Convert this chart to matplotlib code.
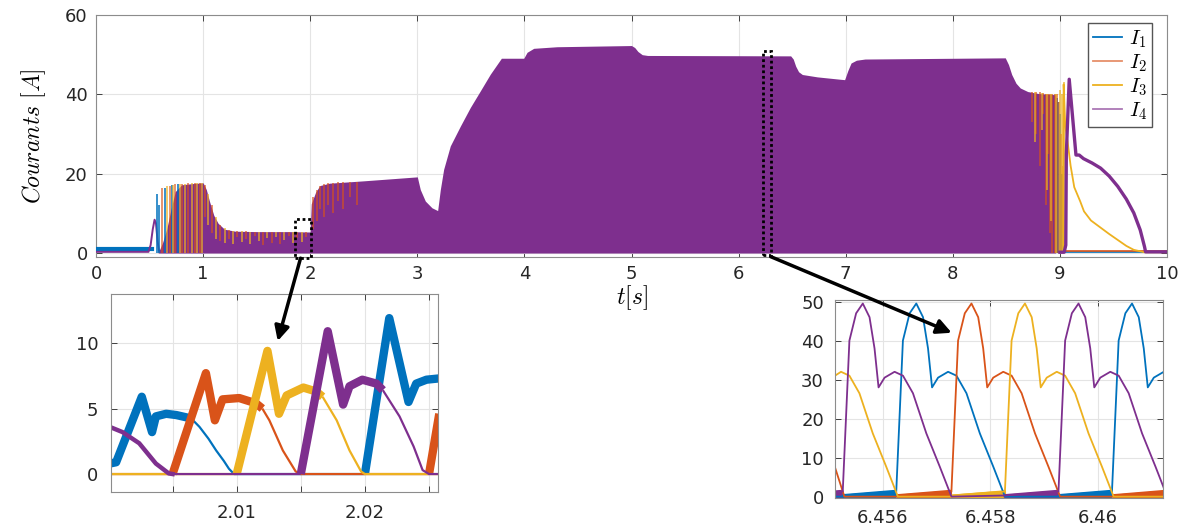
import matplotlib.pyplot as plt
from matplotlib.lines import Line2D
from matplotlib.patches import Rectangle, ConnectionPatch

plt.rcParams['font.family'] = ['DejaVu Sans']
plt.rcParams['mathtext.fontset'] = 'cm'

C1, C2, C3, C4 = '#0072BD', '#D95319', '#EDB120', '#7E2F8E'
nan = float('nan')

# ---------------- main view, 0..10 s ----------------
# upper envelope of the dense switching (drawn as purple block)
env_t = [0.58, 0.62, 0.66, 0.70, 0.74, 0.80, 0.90, 1.00, 1.03, 1.06, 1.10, 1.14,
         1.20, 1.30, 1.50, 1.80, 2.00, 2.005, 2.01, 2.05, 2.09, 2.18, 2.50, 3.00,
         3.028, 3.075, 3.137, 3.19, 3.215, 3.246, 3.308, 3.402, 3.495, 3.589, 3.682,
         3.785, 3.994, 4.025, 4.087, 4.305, 5.00, 5.03, 5.06, 5.10, 5.15,
         6.486, 6.51, 6.533, 6.56, 6.595, 6.735, 6.95, 6.99, 7.02, 7.05, 7.10, 7.18,
         8.49, 8.52, 8.55, 8.59, 8.63, 8.70, 8.80, 8.96]
env_v = [0.0, 2.5, 6.0, 11.0, 15.5, 17.2, 17.5, 17.7, 16.0, 13.0, 9.5, 7.5,
         6.0, 5.5, 5.4, 5.4, 5.3, 9.0, 12.4, 15.3, 17.0, 17.6, 18.2, 19.2,
         16.0, 13.1, 11.4, 10.7, 16.0, 21.1, 27.0, 32.0, 36.7, 40.9, 45.1,
         49.1, 49.1, 50.6, 51.6, 52.0, 52.3, 51.8, 50.8, 50.0, 49.8,
         49.7, 48.9, 47.1, 45.7, 45.0, 44.4, 43.8, 43.7, 46.0, 47.9, 48.6, 48.9,
         49.2, 47.5, 45.0, 42.8, 41.6, 40.7, 40.2, 39.9]

# start-up (before the switching block)
i1_start_t = [0.0, 0.52]
i1_start_v = [1.1, 1.1]
i4_start_t = [0.0, 0.49, 0.51, 0.53, 0.547, 0.56, 0.575, 0.59]
i4_start_v = [0.3, 0.3, 2.0, 6.0, 8.4, 7.5, 3.0, 0.3]

# individual commutation spikes visible on top of the block
sp1_t = [0.567, 0.585, 0.645, 0.707, 0.770, 8.97, 8.985, 9.005, 9.02]
sp1_lo = [0, 0, 0, 0, 0, 0, 0, 0, 0]
sp1_hi = [15.0, 12.0, 16.5, 17.2, 17.4, 39.0, 38.0, 35.0, 20.0]

sp2_t = [0.614, 0.692, 0.738, 0.800, 0.860, 0.920, 0.975,
         1.02, 1.08, 1.16, 1.24, 1.32, 1.40, 1.48, 1.56, 1.64, 1.72, 1.80, 1.88, 1.96,
         2.03, 2.06, 2.09, 2.13, 2.17, 2.21, 2.26, 2.31, 2.37, 2.44,
         8.74, 8.78, 8.81, 8.84, 8.87, 8.89, 8.91, 8.93, 8.95, 8.97, 8.99, 9.01, 9.03]
sp2_lo = [0, 0, 0, 0, 0, 0, 0,
          9.0, 5.0, 3.0, 3.5, 4.0, 3.6, 4.2, 2.1, 2.6, 2.2, 4.4, 3.7, 4.1,
          6.0, 8.0, 11.0, 9.0, 12.0, 10.0, 13.0, 11.0, 14.0, 12.0,
          33, 30, 22, 35, 12, 25, 5, 0, 0, 0, 0, 0, 5]
sp2_hi = [16.3, 17.0, 17.3, 17.5, 17.6, 17.6, 17.7,
          17.2, 12.0, 7.0, 5.8, 5.5, 5.5, 5.4, 5.4, 5.4, 5.4, 5.4, 5.4, 5.3,
          14.0, 15.8, 17.0, 17.4, 17.6, 17.7, 17.8, 17.9, 18.0, 18.0,
          40.5, 40.5, 40.5, 40.3, 40.2, 40.2, 40.2, 40.2, 40, 40, 38, 30, 22]

sp3_t = [0.660, 0.723, 0.785, 0.832, 0.894, 0.940, 0.990,
         1.05, 1.12, 1.20, 1.28, 1.36, 1.44, 1.52, 1.60, 1.68, 1.76, 1.84, 1.92,
         8.77, 8.83, 8.88, 8.92, 8.96, 9.00, 9.02, 9.035]
sp3_lo = [0, 0, 0, 0, 0, 0, 0,
          7.0, 3.5, 2.5, 2.2, 2.8, 2.4, 3.0, 3.8, 4.0, 3.3, 2.5, 2.9,
          28, 31, 16, 8, 0, 0, 0, 0]
sp3_hi = [16.8, 17.2, 17.4, 17.5, 17.6, 17.7, 17.7,
          15.0, 9.0, 6.2, 5.6, 5.5, 5.4, 5.4, 5.4, 5.4, 5.4, 5.4, 5.4,
          40.5, 40.3, 40.2, 40.2, 40, 41, 40, 43]

# after the converter stops (t > 9 s)
i1_end_t = [9.04, 10.0]
i1_end_v = [0.15, 0.15]
i2_end_t = [9.04, 10.0]
i2_end_v = [0.4, 0.4]
i3_end_t = [9.03, 9.035, 9.05, 9.072, 9.10, 9.134, 9.19, 9.225, 9.29, 9.38,
            9.46, 9.54, 9.62, 9.69, 9.79, 10.0]
i3_end_v = [0.3, 42.5, 32.0, 28.0, 22.0, 16.6, 13.0, 10.5, 8.2, 6.4,
            4.8, 3.3, 1.8, 0.8, 0.2, 0.2]
i4_end_t = [9.00, 9.04, 9.055, 9.06, 9.087, 9.15, 9.18, 9.22, 9.30, 9.38,
            9.46, 9.54, 9.62, 9.69, 9.75, 9.79, 9.80, 10.0]
i4_end_v = [0.2, 0.2, 2.0, 25.0, 43.8, 24.7, 24.7, 23.8, 22.7, 21.4,
            19.4, 16.8, 13.6, 10.1, 5.8, 1.6, 0.3, 0.3]

# zoom windows marked on the main view (t0, t1, i0, i1)
win1 = (1.86, 2.01, -1.3, 8.5)
win2 = (6.227, 6.299, -0.5, 50.8)

# ---------------- zoom 1, around t = 2 s ----------------
z1_i1_on_t = [2.0001, 2.0006, 2.0026, 2.0034, 2.0037, 2.0045, 2.0053, 2.0062, nan,
              2.0200, 2.0219, 2.0234, 2.0240, 2.0248, 2.0258]
z1_i1_on_v = [0.8, 0.9, 5.9, 3.2, 4.4, 4.6, 4.5, 4.3, nan,
              0.0, 11.9, 5.5, 6.9, 7.2, 7.3]
z1_i1_off_t = [2.0062, 2.0066, 2.0071, 2.0078, 2.0084, 2.0090, 2.0094, 2.0098, 2.0200]
z1_i1_off_v = [4.3, 4.1, 3.6, 2.7, 1.8, 1.0, 0.4, 0.0, 0.0]

z1_i2_on_t = [2.0050, 2.0076, 2.0083, 2.0089, 2.0102, 2.0115, 2.0120, nan, 2.0250, 2.0258]
z1_i2_on_v = [0.0, 7.7, 4.1, 5.7, 5.8, 5.4, 5.0, nan, 0.0, 4.6]
z1_i2_off_t = [2.0000, 2.0050, nan, 2.0120, 2.01255, 2.0136, 2.0146, 2.0150, 2.0250]
z1_i2_off_v = [0.0, 0.0, nan, 5.0, 4.1, 1.8, 0.2, 0.0, 0.0]

z1_i3_on_t = [2.0100, 2.0124, 2.0133, 2.0139, 2.0152, 2.0162, 2.0167]
z1_i3_on_v = [0.0, 9.4, 4.6, 6.0, 6.6, 6.3, 5.9]
z1_i3_off_t = [2.0000, 2.0100, nan, 2.0167, 2.0178, 2.0188, 2.0197, 2.0200, 2.0258]
z1_i3_off_v = [0.0, 0.0, nan, 5.9, 4.1, 1.8, 0.2, 0.0, 0.0]

z1_i4_tail_t = [2.0001, 2.0011, 2.0024, 2.0037, 2.0047, 2.0050]
z1_i4_tail_v = [3.6, 3.2, 2.35, 0.8, 0.05, 0.0]
z1_i4_on_t = [2.0150, 2.0171, 2.0183, 2.0188, 2.0198, 2.0209, 2.0214]
z1_i4_on_v = [0.0, 10.9, 5.3, 6.7, 7.2, 6.9, 6.4]
z1_i4_off_t = [2.0050, 2.0150, nan, 2.0214, 2.0227, 2.0238, 2.0245, 2.0250, 2.0258]
z1_i4_off_v = [0.0, 0.0, nan, 6.4, 4.4, 2.1, 0.3, 0.0, 0.0]

# ---------------- zoom 2, around t = 6.458 s ----------------
z2_i1_t = [6.45511, 6.455250, 6.455254, 6.456235,
           6.456249, 6.456373, 6.456498, 6.456622, 6.456747, 6.456840, 6.456915,
           6.457027, 6.457213, 6.457369, 6.457555, 6.457804, 6.458053, 6.458271,
           6.459260, 6.459266, 6.460247,
           6.460261, 6.460385, 6.460510, 6.460634, 6.460759, 6.460852, 6.460927,
           6.461039, 6.461225]
z2_i1_v = [0.0, 0.0, 0.3, 1.3,
           1.3, 40, 47, 49.5, 46, 38, 28, 30.5, 32, 31, 26.5, 16.2, 7.7, 0.0,
           0.0, 0.3, 1.3,
           1.3, 40, 47, 49.5, 46, 38, 28, 30.5, 32]
z2_i1_band_t = [6.455254, 6.456235, nan, 6.459266, 6.460247]
z2_i1_band_v = [0.3, 1.4, nan, 0.3, 1.4]

z2_i2_t = [6.45511, 6.455285, 6.456274, 6.456280, 6.457261,
           6.457275, 6.457399, 6.457524, 6.457648, 6.457773, 6.457866, 6.457941,
           6.458053, 6.458239, 6.458395, 6.458581, 6.458830, 6.459079, 6.459297,
           6.460286, 6.460292, 6.461210]
z2_i2_v = [7.5, 0.0, 0.0, 0.3, 1.3,
           1.3, 40, 47, 49.5, 46, 38, 28, 30.5, 32, 31, 26.5, 16.2, 7.7, 0.0,
           0.0, 0.3, 1.25]
z2_i2_band_t = [6.456280, 6.457261, nan, 6.460292, 6.461210]
z2_i2_band_v = [0.3, 1.4, nan, 0.3, 1.35]

z2_i3_t = [6.45511, 6.455222, 6.455378, 6.455564, 6.455813, 6.456062, 6.456280,
           6.457269, 6.457275, 6.458256,
           6.458270, 6.458394, 6.458519, 6.458643, 6.458768, 6.458861, 6.458936,
           6.459048, 6.459234, 6.459390, 6.459576, 6.459825, 6.460074, 6.460292,
           6.461210]
z2_i3_v = [31.0, 32, 31, 26.5, 16.2, 7.7, 0.0,
           0.0, 0.3, 1.3,
           1.3, 40, 47, 49.5, 46, 38, 28, 30.5, 32, 31, 26.5, 16.2, 7.7, 0.0,
           0.0]
z2_i3_band_t = [6.457275, 6.458256]
z2_i3_band_v = [0.3, 1.4]

z2_i4_t = [6.45511, 6.455240,
           6.455254, 6.455378, 6.455503, 6.455627, 6.455752, 6.455845, 6.455920,
           6.456032, 6.456218, 6.456374, 6.456560, 6.456809, 6.457058, 6.457276,
           6.458270, 6.459252,
           6.459266, 6.459390, 6.459515, 6.459639, 6.459764, 6.459857, 6.459932,
           6.460044, 6.460230, 6.460386, 6.460572, 6.460821, 6.461070, 6.461288]
z2_i4_v = [1.15, 1.3,
           1.3, 40, 47, 49.5, 46, 38, 28, 30.5, 32, 31, 26.5, 16.2, 7.7, 0.0,
           0.3, 1.3,
           1.3, 40, 47, 49.5, 46, 38, 28, 30.5, 32, 31, 26.5, 16.2, 7.7, 0.0]
z2_i4_band_t = [6.45511, 6.455240, nan, 6.458270, 6.459252]
z2_i4_band_v = [1.25, 1.4, nan, 0.3, 1.4]


def style(a, pad=7):
    a.grid(True, color='#e4e4e4', lw=0.8)
    a.set_axisbelow(True)
    a.tick_params(direction='in', length=4, width=0.6, top=True, right=True,
                  labelsize=13, colors='#262626', pad=pad)
    for s in a.spines.values():
        s.set_color('#8c8c8c')
        s.set_linewidth(0.8)


W, H = 1191, 529


def box(l, t, r, b):
    return [l / W, 1 - b / H, (r - l) / W, (b - t) / H]


fig = plt.figure(figsize=(11.91, 5.29), dpi=100)
ax = fig.add_axes(box(96, 15, 1167, 257))
ax1 = fig.add_axes(box(111, 294, 438, 492))
ax2 = fig.add_axes(box(835, 300, 1163, 498))

# main
ax.plot(i1_start_t, i1_start_v, color=C1, lw=3, zorder=3)
ax.plot(i4_start_t, i4_start_v, color=C4, lw=1.4, zorder=3)
ax.fill_between(env_t, 0, env_v, color=C4, lw=0, zorder=2)
ax.vlines(sp1_t, sp1_lo, sp1_hi, color=C1, lw=1.1, zorder=3)
ax.vlines(sp2_t, sp2_lo, sp2_hi, color=C2, lw=1.1, alpha=0.8, zorder=3)
ax.vlines(sp3_t, sp3_lo, sp3_hi, color=C3, lw=1.1, alpha=0.85, zorder=3)
ax.plot(i1_end_t, i1_end_v, color=C1, lw=1.2, zorder=3)
ax.plot(i2_end_t, i2_end_v, color=C2, lw=1.2, zorder=3)
ax.plot(i3_end_t, i3_end_v, color=C3, lw=1.3, zorder=3)
ax.plot(i4_end_t, i4_end_v, color=C4, lw=2.4, zorder=4)
ax.set_xlim(0, 10)
ax.set_ylim(-1, 60)
ax.set_xticks(range(11))
ax.set_yticks([0, 20, 40, 60])
style(ax, pad=6)
ax.set_xlabel('$t[s]$', fontsize=17, labelpad=0)
ax.set_ylabel('$Courants\\ [A]$', fontsize=17, labelpad=12)

for (t0, t1, y0, y1) in (win1, win2):
    ax.add_patch(Rectangle((t0, y0), t1 - t0, y1 - y0, fill=False, ec='k', lw=2,
                           ls=(0, (1, 1)), clip_on=False, zorder=5))

handles = [Line2D([], [], color=C1, lw=1.3), Line2D([], [], color=C2, lw=1.3, alpha=0.65),
           Line2D([], [], color=C3, lw=1.3), Line2D([], [], color=C4, lw=1.3, alpha=0.65)]
ax.legend(handles, ['$I_1$', '$I_2$', '$I_3$', '$I_4$'], loc='upper right',
          bbox_to_anchor=((1152 - 96) / 1071, (257 - 23) / 242), borderaxespad=0,
          fontsize=15, handlelength=1.4, handletextpad=0.3, labelspacing=0.12,
          borderpad=0.25, fancybox=False, edgecolor='#555555', framealpha=1)

# zoom 1
for (on_t, on_v, off_t, off_v, c) in (
        (z1_i1_on_t, z1_i1_on_v, z1_i1_off_t, z1_i1_off_v, C1),
        (z1_i2_on_t, z1_i2_on_v, z1_i2_off_t, z1_i2_off_v, C2),
        (z1_i3_on_t, z1_i3_on_v, z1_i3_off_t, z1_i3_off_v, C3),
        (z1_i4_on_t, z1_i4_on_v, z1_i4_off_t, z1_i4_off_v, C4)):
    ax1.plot(off_t, off_v, color=c, lw=1.6, solid_capstyle='butt')
    ax1.plot(on_t, on_v, color=c, lw=6, solid_joinstyle='round', solid_capstyle='butt')
ax1.plot(z1_i4_tail_t, z1_i4_tail_v, color=C4, lw=3.2)
ax1.set_xlim(2.0002, 2.0257)
ax1.set_ylim(-1.37, 13.74)
ax1.set_xticks([2.005, 2.01, 2.015, 2.02, 2.025])
ax1.set_xticklabels(['', '2.01', '', '2.02', ''])
ax1.set_yticks([0, 5, 10])
style(ax1, pad=9)

# zoom 2
for (t, v, bt, bv, c) in ((z2_i1_t, z2_i1_v, z2_i1_band_t, z2_i1_band_v, C1),
                          (z2_i2_t, z2_i2_v, z2_i2_band_t, z2_i2_band_v, C2),
                          (z2_i3_t, z2_i3_v, z2_i3_band_t, z2_i3_band_v, C3),
                          (z2_i4_t, z2_i4_v, z2_i4_band_t, z2_i4_band_v, C4)):
    ax2.plot(t, v, color=c, lw=1.3)
    ax2.fill_between(bt, 0, bv, color=c, lw=2, ec=c)
ax2.set_xlim(6.45511, 6.46121)
ax2.set_ylim(-0.35, 50.4)
ax2.set_xticks([6.456, 6.458, 6.46])
ax2.set_xticklabels(['6.456', '6.458', '6.46'])
ax2.set_yticks(range(0, 51, 10))
style(ax2, pad=8)

# arrows from the marked windows to the zooms
for (xa, ya, axb, xb, yb) in ((1.91, -1.3, ax1, 2.0132, 10.15),
                              (6.299, -0.9, ax2, 6.45728, 42.0)):
    con = ConnectionPatch(xyA=(xa, ya), coordsA=ax.transData, xyB=(xb, yb),
                          coordsB=axb.transData, arrowstyle='-|>', lw=2.5,
                          color='k', mutation_scale=22, zorder=10)
    fig.add_artist(con)

fig.savefig('out.png', dpi=100)
